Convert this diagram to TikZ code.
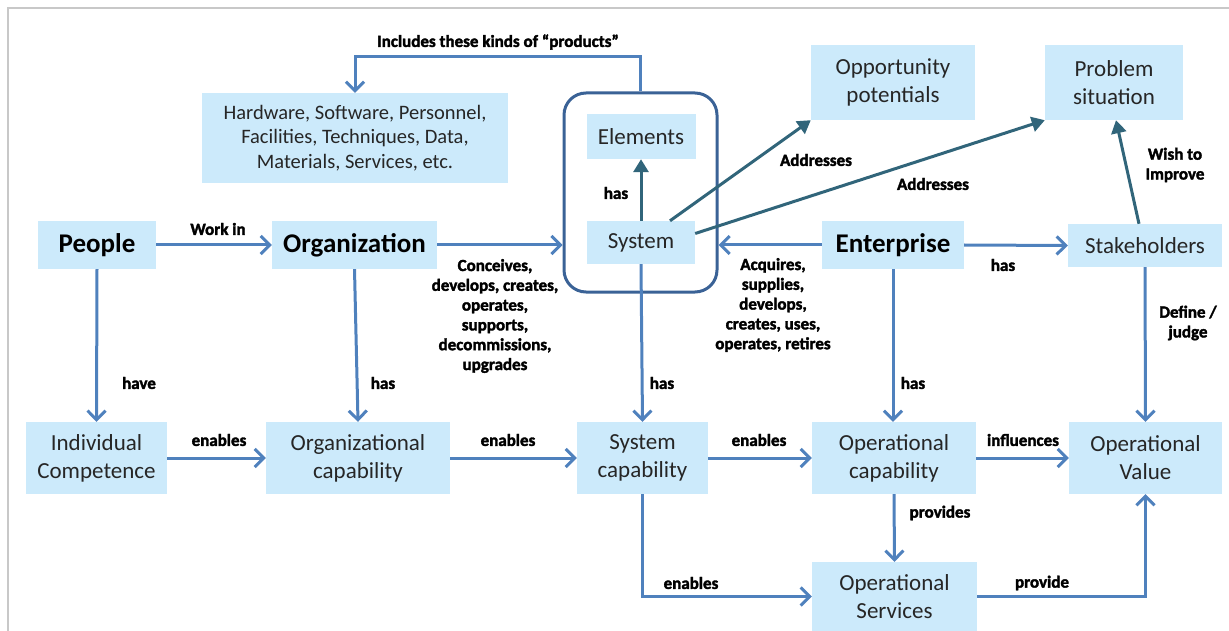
\documentclass[tikz,border=0pt]{standalone}
\usepackage{fontspec}
\setmainfont{Carlito}
\newfontfamily\labfont{Carlito Bold}[FakeBold=2]
\usetikzlibrary{arrows.meta,calc}
\definecolor{boxfill}{RGB}{204,234,251}
\definecolor{arrblue}{RGB}{79,129,189}
\definecolor{tealarr}{RGB}{49,101,122}
\definecolor{frameblue}{RGB}{58,98,150}
\definecolor{txtgrey}{RGB}{38,38,38}
\definecolor{framegrey}{RGB}{200,200,200}
\begin{document}
\begin{tikzpicture}[x=1pt,y=-1pt,
 box/.style={fill=boxfill, inner sep=0pt, text=txtgrey, align=center, font=\fontsize{23}{28}\selectfont},
 bigbox/.style={box, text=black, font=\fontsize{27}{30}\selectfont\bfseries},
 lab/.style={font=\fontsize{17}{19.8}\labfont, align=center, inner sep=0pt},
 arr/.style={draw=arrblue, line width=3pt, -{Straight Barb[length=9pt,width=18pt]}},
 tarr/.style={draw=tealarr, line width=3pt, -{Triangle[length=13pt,width=15pt]}},
 frm/.style={draw=frameblue, line width=3pt, rounded corners=22pt, inner sep=0pt},
]
\useasboundingbox (0,0) rectangle (1229,631);
\draw[framegrey, line width=2pt] (7.5,631) -- (7.5,8) -- (1229,8);

% container
\node[frm, minimum width=153pt, minimum height=199pt] (sysbox) at (640.5,192.5) {};

% boxes
\node[box, minimum width=306pt, minimum height=90pt, font=\fontsize{20.5}{24.5}\selectfont] (hw) at (355,138) {Hardware, Software, Personnel,\\Facilities, Techniques, Data,\\Materials, Services, etc.};
\node[box, minimum width=109pt, minimum height=45pt] (elem) at (641,136.5) {Elements};
\node[box, minimum width=108pt, minimum height=43pt] (sys) at (641,242.5) {System};
\node[box, minimum width=164pt, minimum height=75pt] (opp) at (893,82.5) {Opportunity\\potentials};
\node[box, minimum width=138pt, minimum height=75pt] (prob) at (1114,82.5) {Problem\\situation};
\node[bigbox, minimum width=118pt, minimum height=48pt] (people) at (97,245) {People};
\node[bigbox, minimum width=165pt, minimum height=48pt] (org) at (354.5,245) {Organization};
\node[bigbox, minimum width=142pt, minimum height=48pt] (ent) at (893,245) {Enterprise};
\node[box, minimum width=154pt, minimum height=43pt] (stake) at (1145,245.5) {Stakeholders};
\node[box, minimum width=141pt, minimum height=72pt] (indc) at (96.5,458) {Individual\\Competence};
\node[box, minimum width=184pt, minimum height=72pt] (orgcap) at (358,458) {Organizational\\capability};
\node[box, minimum width=131pt, minimum height=72pt] (syscap) at (642.5,458) {System\\capability};
\node[box, minimum width=164pt, minimum height=72pt] (opcap) at (894,458) {Operational\\capability};
\node[box, minimum width=153pt, minimum height=72pt] (opval) at (1145.5,458) {Operational\\Value};
\node[box, minimum width=165pt, minimum height=69pt] (opserv) at (894.5,596.5) {Operational\\Services};

% connectors
\draw[arr] (sysbox.north) -- ++(0,-35) -| (hw.north);
\draw[tarr] (sys.north) -- (elem.south);
\draw[tarr] ([xshift=29pt]sys.north) -- (opp.south west);
\draw[tarr] ([yshift=9pt]sys.east) -- (prob.south west);
\draw[tarr] ([xshift=-6pt]stake.north) -- ([xshift=2pt]prob.south);
\draw[arr] (people.east) -- (org.west);
\draw[arr] (org.east) -- (org.east -| sysbox.west);
\draw[arr] (ent.west) -- (ent.west -| sysbox.east);
\draw[arr] (ent.east) -- (stake.west);
\draw[arr] (people.south) -- (indc.north);
\draw[arr] (org.south) -- (orgcap.north);
\draw[arr] (sys.south) -- (syscap.north);
\draw[arr] (ent.south) -- (ent.south |- opcap.north);
\draw[arr] (stake.south) -- (opval.north);
\draw[arr] (indc.east) -- (orgcap.west);
\draw[arr] (orgcap.east) -- (syscap.west);
\draw[arr] (syscap.east) -- (opcap.west);
\draw[arr] (opcap.east) -- (opval.west);
\draw[arr] (opcap.south) -- (opserv.north);
\draw[arr] (syscap.south) |- (opserv.west);
\draw[arr] (opserv.east) -| (opval.south);

% labels
\node[lab] (l1) at (498,42) {Includes these kinds of “products”};
\node[lab] (l2) at (616,193) {has};
\node[lab] (l3) at (816,160) {Addresses};
\node[lab] (l4) at (933,184) {Addresses};
\node[lab] (l5) at (1175,165) {Wish to\\Improve};
\node[lab] (l6) at (218,229) {Work in};
\node[lab] (l7) at (495,316) {Conceives,\\develops, creates,\\operates,\\supports,\\decommissions,\\upgrades};
\node[lab] (l8) at (773,305) {Acquires,\\supplies,\\develops,\\creates, uses,\\operates, retires};
\node[lab] (l9) at (1003,265) {has};
\node[lab] (l10) at (1188,323) {Define /\\judge};
\node[lab] (l11) at (139,383) {have};
\node[lab] (l12) at (383,383) {has};
\node[lab] (l13) at (662,383) {has};
\node[lab] (l14) at (913,383) {has};
\node[lab] (l15) at (219,440) {enables};
\node[lab] (l16) at (508,440) {enables};
\node[lab] (l17) at (759,440) {enables};
\node[lab] (l18) at (1023,440) {influences};
\node[lab] (l19) at (940,513) {provides};
\node[lab] (l20) at (691,583) {enables};
\node[lab] (l21) at (1042,583) {provide};
\end{tikzpicture}
\end{document}
